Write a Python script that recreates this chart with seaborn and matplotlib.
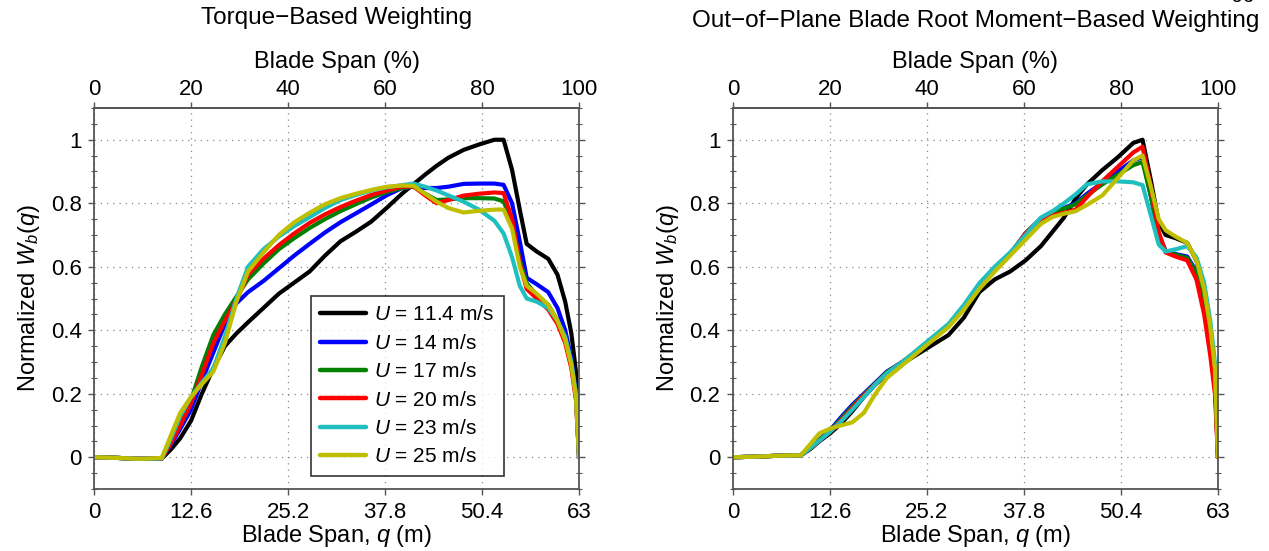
import numpy as np
import pandas as pd
import matplotlib
matplotlib.use("Agg")
import matplotlib.pyplot as plt
import seaborn as sns
from matplotlib.ticker import MultipleLocator

sns.set_theme(style="ticks")
plt.rcParams.update({
    'font.family': ['Liberation Sans', 'DejaVu Sans'],
    'mathtext.fontset': 'custom',
    'mathtext.rm': 'Liberation Sans',
    'mathtext.it': 'Liberation Sans:italic',
    'mathtext.bf': 'Liberation Sans:bold',
    'axes.unicode_minus': True,
    'text.color': 'black',
    'axes.labelcolor': 'black',
    'xtick.labelcolor': 'black',
    'ytick.labelcolor': 'black',
})

# blade span stations (m), shared by all curves of a panel
q = [0, 3, 6, 8.8, 10, 11.2, 12.6, 14, 15.5, 17, 18.5, 20, 22, 24, 26, 28, 30,
     32, 34, 36, 38, 40, 41.5, 43, 44.5, 46, 48, 50, 52, 53.2, 54.3, 55.3,
     56.2, 57.5, 59, 60.2, 61.2, 62, 62.6, 63]

speeds = ['11.4', '14', '17', '20', '23', '25']
colors = ['#000000', '#0000ff', '#008000', '#ff0000', '#1fbfbf', '#bfbf00']

# torque-based weighting
torque_114 = [0, -0.002, -0.005, -0.004, 0.025, 0.06, 0.115, 0.20, 0.28, 0.35, 0.39, 0.425, 0.47, 0.515,
              0.55, 0.585, 0.635, 0.68, 0.71, 0.742, 0.785, 0.83, 0.86, 0.89, 0.918, 0.943, 0.968,
              0.985, 1.0, 1.0, 0.905, 0.78, 0.672, 0.648, 0.625, 0.575, 0.49, 0.39, 0.27, 0.0]
torque_14 = [0, -0.002, -0.005, -0.004, 0.04, 0.09, 0.15, 0.24, 0.33, 0.42, 0.485, 0.52, 0.555, 0.595,
             0.635, 0.672, 0.708, 0.74, 0.768, 0.796, 0.825, 0.848, 0.852, 0.848, 0.848, 0.852, 0.861,
             0.862, 0.862, 0.858, 0.80, 0.68, 0.565, 0.545, 0.52, 0.47, 0.40, 0.31, 0.20, 0.0]
torque_17 = [0, -0.002, -0.005, -0.004, 0.05, 0.11, 0.18, 0.285, 0.385, 0.45, 0.506, 0.56, 0.61, 0.655,
             0.69, 0.722, 0.75, 0.775, 0.797, 0.818, 0.835, 0.848, 0.853, 0.83, 0.81, 0.812, 0.816,
             0.816, 0.815, 0.806, 0.74, 0.62, 0.548, 0.51, 0.48, 0.43, 0.37, 0.29, 0.19, 0.0]
torque_20 = [0, -0.002, -0.005, -0.004, 0.045, 0.10, 0.17, 0.26, 0.36, 0.43, 0.495, 0.575, 0.625, 0.668,
             0.705, 0.738, 0.765, 0.788, 0.808, 0.826, 0.84, 0.852, 0.853, 0.825, 0.80, 0.81, 0.824,
             0.83, 0.834, 0.832, 0.75, 0.61, 0.53, 0.50, 0.465, 0.42, 0.36, 0.28, 0.18, 0.0]
torque_23 = [0, -0.002, -0.005, -0.004, 0.06, 0.13, 0.19, 0.235, 0.28, 0.38, 0.50, 0.60, 0.655, 0.695,
             0.728, 0.756, 0.785, 0.81, 0.826, 0.84, 0.85, 0.857, 0.862, 0.852, 0.84, 0.825, 0.805,
             0.78, 0.745, 0.705, 0.63, 0.54, 0.50, 0.49, 0.47, 0.43, 0.38, 0.30, 0.20, 0.0]
torque_25 = [0, -0.002, -0.005, -0.002, 0.07, 0.14, 0.19, 0.23, 0.27, 0.36, 0.49, 0.585, 0.645, 0.70,
             0.74, 0.77, 0.797, 0.816, 0.83, 0.842, 0.852, 0.856, 0.855, 0.83, 0.805, 0.785, 0.771,
             0.776, 0.78, 0.78, 0.72, 0.60, 0.54, 0.515, 0.48, 0.43, 0.37, 0.29, 0.19, 0.0]

# out-of-plane blade root moment-based weighting
moment_114 = [0, 0.002, 0.005, 0.006, 0.025, 0.05, 0.075, 0.105, 0.145, 0.19, 0.23, 0.26, 0.295, 0.325,
              0.355, 0.385, 0.44, 0.52, 0.56, 0.585, 0.62, 0.665, 0.71, 0.755, 0.815, 0.86, 0.905,
              0.945, 0.99, 1.0, 0.87, 0.74, 0.70, 0.69, 0.675, 0.62, 0.52, 0.40, 0.27, 0.0]
moment_14 = [0, 0.002, 0.005, 0.006, 0.03, 0.055, 0.085, 0.125, 0.165, 0.20, 0.235, 0.27, 0.30, 0.335,
             0.375, 0.415, 0.475, 0.545, 0.595, 0.64, 0.705, 0.752, 0.768, 0.785, 0.80, 0.83, 0.865,
             0.90, 0.935, 0.945, 0.82, 0.70, 0.65, 0.64, 0.632, 0.585, 0.49, 0.38, 0.25, 0.0]
moment_17 = [0, 0.002, 0.005, 0.006, 0.03, 0.055, 0.082, 0.12, 0.16, 0.197, 0.232, 0.268, 0.30, 0.335,
             0.375, 0.415, 0.475, 0.545, 0.595, 0.64, 0.705, 0.752, 0.768, 0.783, 0.797, 0.825, 0.86,
             0.89, 0.92, 0.93, 0.82, 0.70, 0.648, 0.638, 0.628, 0.58, 0.48, 0.37, 0.24, 0.0]
moment_20 = [0, 0.002, 0.005, 0.006, 0.028, 0.052, 0.08, 0.115, 0.155, 0.195, 0.23, 0.265, 0.30, 0.335,
             0.375, 0.415, 0.475, 0.545, 0.595, 0.64, 0.705, 0.75, 0.762, 0.77, 0.78, 0.82, 0.87,
             0.915, 0.96, 0.978, 0.85, 0.71, 0.645, 0.632, 0.62, 0.56, 0.45, 0.32, 0.20, 0.0]
moment_23 = [0, 0.002, 0.005, 0.006, 0.028, 0.052, 0.08, 0.112, 0.15, 0.19, 0.23, 0.265, 0.30, 0.34,
             0.38, 0.42, 0.48, 0.548, 0.60, 0.645, 0.70, 0.755, 0.775, 0.80, 0.828, 0.86, 0.869,
             0.869, 0.866, 0.857, 0.76, 0.67, 0.648, 0.655, 0.665, 0.63, 0.55, 0.43, 0.30, 0.01]
moment_25 = [0, 0.002, 0.005, 0.006, 0.04, 0.075, 0.09, 0.10, 0.11, 0.14, 0.20, 0.25, 0.29, 0.33,
             0.37, 0.41, 0.465, 0.53, 0.585, 0.635, 0.685, 0.735, 0.757, 0.767, 0.775, 0.795, 0.825,
             0.88, 0.935, 0.95, 0.85, 0.75, 0.715, 0.695, 0.675, 0.62, 0.53, 0.41, 0.28, 0.0]

torque = [torque_114, torque_14, torque_17, torque_20, torque_23, torque_25]
moment = [moment_114, moment_14, moment_17, moment_20, moment_23, moment_25]

x_ticks = [0, 12.6, 25.2, 37.8, 50.4, 63]
x_tick_labels = ['0', '12.6', '25.2', '37.8', '50.4', '63']
pct_ticks = [0, 20, 40, 60, 80, 100]
y_ticks = [0, 0.2, 0.4, 0.6, 0.8, 1]
y_tick_labels = ['0', '0.2', '0.4', '0.6', '0.8', '1']

FS = 16
LFS = 17
spine_col = '#555555'


def long_frame(series):
    rows = []
    for s, vals in zip(speeds, series):
        label = r'$U$ = ' + s + ' m/s'
        for x, v in zip(q, vals):
            rows.append({'q': x, 'W': v, 'U': label})
    return pd.DataFrame(rows)


def style_axes(ax):
    ax.set_xlim(0, 63)
    ax.set_ylim(-0.1, 1.1)
    ax.set_xticks(x_ticks)
    ax.set_xticklabels(x_tick_labels)
    ax.set_yticks(y_ticks)
    ax.set_yticklabels(y_tick_labels)
    ax.yaxis.set_minor_locator(MultipleLocator(0.05))
    ax.tick_params(axis='both', which='major', labelsize=FS, direction='out', length=4,
                   width=1, color=spine_col, labelcolor='black', pad=5)
    ax.tick_params(axis='y', which='minor', direction='inout', length=4, width=0.8,
                   color=spine_col, left=True, right=True)
    ax.tick_params(axis='y', which='major', right=True)
    ax.grid(True, which='major', linestyle=(0, (1, 4)), color='#888888', linewidth=0.9)
    for sp in ax.spines.values():
        sp.set_visible(True)
        sp.set_color(spine_col)
        sp.set_linewidth(1.3)
    ax.set_xlabel(r'Blade Span, $q$ (m)', fontsize=LFS, labelpad=0)
    ax.set_ylabel(r'Normalized $W_b(q)$', fontsize=LFS, labelpad=6)

    top = ax.secondary_xaxis('top', functions=(lambda x: x / 63 * 100, lambda p: p * 63 / 100))
    top.set_xticks(pct_ticks)
    top.tick_params(labelsize=FS, direction='out', length=4, width=1, color=spine_col,
                    labelcolor='black', pad=1.5)
    top.spines['top'].set_color(spine_col)
    top.spines['top'].set_linewidth(1.3)
    top.set_xlabel('Blade Span (%)', fontsize=LFS, labelpad=8)
    return top


fig = plt.figure(figsize=(12.69, 5.51), dpi=100)
ax1 = fig.add_axes([0.0741, 0.1125, 0.3822, 0.6915])
ax2 = fig.add_axes([0.5776, 0.1125, 0.3822, 0.6915])

for ax, series, title, legend, ty in [
    (ax1, torque, 'Torque\u2212Based Weighting', True, 1 - 18 / 551),
    (ax2, moment, 'Out\u2212of\u2212Plane Blade Root Moment\u2212Based Weighting', False, 1 - 21 / 551),
]:
    df = long_frame(series)
    sns.lineplot(data=df, x='q', y='W', hue='U', palette=colors, linewidth=3.0,
                 sort=False, estimator=None, ax=ax, legend=legend)
    style_axes(ax)
    pos = ax.get_position()
    fig.text(pos.x0 + pos.width / 2, ty, title, ha='center', va='center', fontsize=17.5)

leg = ax1.legend(loc='lower left', bbox_to_anchor=(0.447, 0.035), fontsize=15, frameon=True,
                 fancybox=False, edgecolor='black', handlelength=2.2, handletextpad=0.4,
                 borderpad=0.45, labelspacing=0.45, borderaxespad=0)
leg.get_frame().set_linewidth(1.2)
for line in leg.get_lines():
    line.set_linewidth(3.2)

# page number peeking in at the very top edge, as in the source page
fig.text(1243 / 1269, 1 + 3 / 551, '66', ha='center', va='center', fontsize=15)

fig.savefig('out.png', dpi=100)
